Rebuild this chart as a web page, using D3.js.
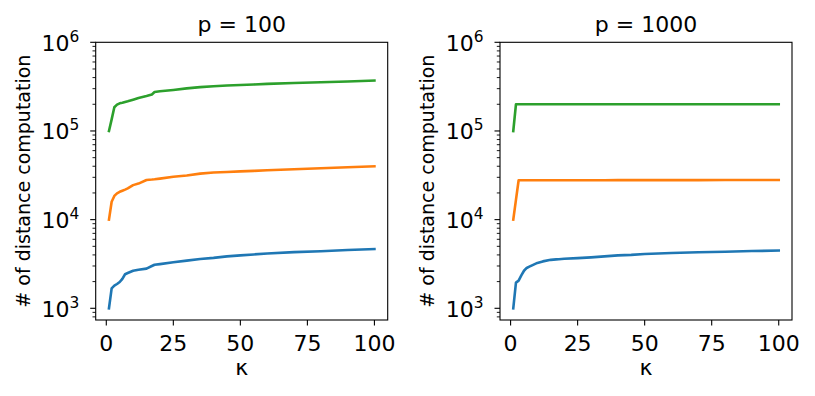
<html>
  <head>
    <script src="https://cdn.jsdelivr.net/npm/d3@7/dist/d3.min.js"></script>
  </head>
  <body>
    <style>
      body{
        margin: 0;
        padding: 0;
        background-color: white;
      }
      text{
        font-family: "DejaVu Sans", sans-serif;
        fill: #000;
      }
    </style>
    <div id="chart"></div>
    <script>
      // kappa values
      var kValues = [1,2,3,4,5,6,7,8,10,12,15,17,18,20,25,30,35,40,45,50,55,60,70,80,90,100];

      // p = 100
      var blue100   = [1000,1680,1800,1880,1980,2150,2420,2500,2650,2720,2800,3000,3100,3150,3300,3450,3600,3700,3850,3950,4050,4150,4300,4400,4550,4650];
      var orange100 = [10000,15900,18500,19800,20600,21200,21800,22500,24500,25500,28000,28300,28500,29000,30500,31500,33000,34000,34500,35000,35500,36000,37000,38000,39000,40000];
      var green100  = [100000,135000,185000,198000,205000,208000,212000,216000,225000,235000,248000,258000,275000,280000,290000,302000,312000,320000,326000,330000,334000,340000,347000,355000,362000,370000];

      // p = 1000
      var blue1000   = [1000,1950,2050,2350,2650,2850,2950,3050,3250,3380,3520,3560,3580,3620,3680,3750,3850,3950,4000,4100,4150,4200,4280,4350,4420,4480];
      var orange1000 = [10000,16700,27800,27800,27800,27800,27800,27800,27800,27800,27800,27800,27800,27800,27800,27800,27800,27900,27900,27900,27900,27900,27900,28000,28000,28000];
      var green1000  = [100000,200000,200000,200000,200000,200000,200000,200000,200000,200000,200000,200000,200000,200000,200000,200000,200000,200000,200000,200000,200000,200000,200000,200000,200000,200000];

      var titles = ["p = 100", "p = 1000"];
      var xTicks = [0, 25, 50, 75, 100];
      var yTicks = [3, 4, 5, 6];
      var colors = ["#1f77b4", "#ff7f0e", "#2ca02c"];

      var svg = d3.select("#chart").append("svg")
        .attr("width", 815).attr("height", 396);

      function panel(left, title, series){
        var right = left + 292, top = 42.3, bottom = 320;
        var x = d3.scaleLinear().domain([-3.95, 104.95]).range([left, right]);
        var y = d3.scaleLog().domain([Math.pow(10, 2.868), 1e6]).range([bottom, top]);
        var g = svg.append("g");

        var line = d3.line()
          .x(function(d){ return x(d[0]); })
          .y(function(d){ return y(d[1]); });
        series.forEach(function(s, i){
          g.append("path")
            .datum(kValues.map(function(k, j){ return [k, s[j]]; }))
            .attr("d", line)
            .attr("fill", "none")
            .attr("stroke", colors[i])
            .attr("stroke-width", 2.6)
            .attr("stroke-linejoin", "round")
            .attr("stroke-linecap", "square");
        });

        g.append("rect")
          .attr("x", left).attr("y", top)
          .attr("width", right - left).attr("height", bottom - top)
          .attr("fill", "none").attr("stroke", "#000").attr("stroke-width", 1.1);

        // x ticks
        xTicks.forEach(function(t){
          g.append("line")
            .attr("x1", x(t)).attr("x2", x(t))
            .attr("y1", bottom).attr("y2", bottom + 5.5)
            .attr("stroke", "#000").attr("stroke-width", 1.1);
          g.append("text")
            .attr("x", x(t)).attr("y", 350.5)
            .attr("text-anchor", "middle")
            .style("font-size", "22px")
            .text(t);
        });

        // y minor ticks
        [2, 3].forEach(function(e){
          for (var m = 2; m <= 9; m++){
            var v = m * Math.pow(10, e);
            if (v < y.domain()[0] || v > y.domain()[1]) continue;
            g.append("line")
              .attr("x1", left).attr("x2", left - 3.2)
              .attr("y1", y(v)).attr("y2", y(v))
              .attr("stroke", "#000").attr("stroke-width", 0.9);
          }
        });
        [4, 5].forEach(function(e){
          for (var m = 2; m <= 9; m++){
            var v = m * Math.pow(10, e);
            g.append("line")
              .attr("x1", left).attr("x2", left - 3.2)
              .attr("y1", y(v)).attr("y2", y(v))
              .attr("stroke", "#000").attr("stroke-width", 0.9);
          }
        });

        // y major ticks
        yTicks.forEach(function(e){
          var yy = y(Math.pow(10, e));
          g.append("line")
            .attr("x1", left).attr("x2", left - 5.5)
            .attr("y1", yy).attr("y2", yy)
            .attr("stroke", "#000").attr("stroke-width", 1.1);
          var t = g.append("text")
            .attr("x", left - 16.4).attr("y", yy + 8.4)
            .attr("text-anchor", "end")
            .style("font-size", "22px");
          t.append("tspan").text("10");
          t.append("tspan").attr("dy", -9).style("font-size", "15.4px").text(e);
        });

        g.append("text")
          .attr("x", (left + right) / 2).attr("y", 31.7)
          .attr("text-anchor", "middle")
          .style("font-size", "22px")
          .text(title);

        g.append("text")
          .attr("x", (left + right) / 2).attr("y", 375.3)
          .attr("text-anchor", "middle")
          .style("font-size", "22px")
          .text("κ");

        g.append("text")
          .attr("transform", "translate(" + (left - 65.7) + "," + ((top + bottom) / 2) + ") rotate(-90)")
          .attr("text-anchor", "middle")
          .style("font-size", "19px")
          .text("# of distance computation");
      }

      panel(95.7, titles[0], [blue100, orange100, green100]);
      panel(500, titles[1], [blue1000, orange1000, green1000]);
    </script>
  </body>
</html>
